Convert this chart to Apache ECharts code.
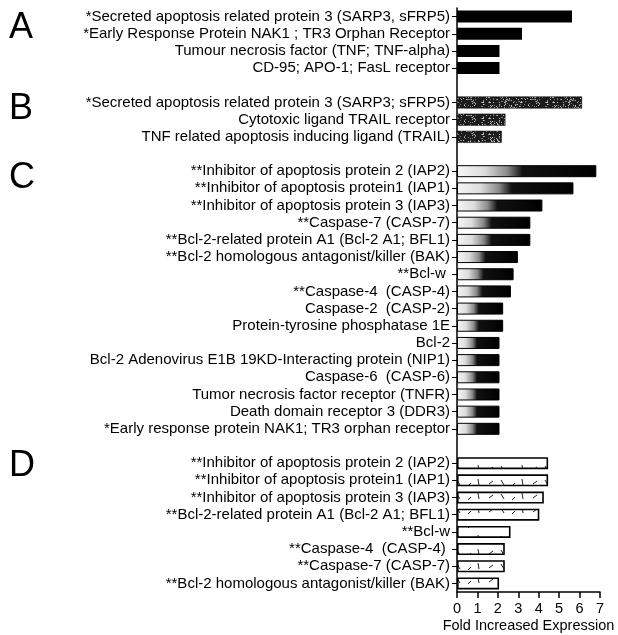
<!DOCTYPE html>
<html><head><meta charset="utf-8">
<script src="https://cdn.jsdelivr.net/npm/echarts@6/dist/echarts.min.js"></script>
<style>html,body{margin:0;padding:0;background:#fff}#c{width:618px;height:635px}</style>
</head><body><div id="c"></div>
<script>
// ---- data ----
const panelALabels = [
  '*Secreted apoptosis related protein 3 (SARP3, sFRP5)',
  '*Early Response Protein NAK1 ; TR3 Orphan Receptor',
  'Tumour necrosis factor (TNF; TNF-alpha)',
  'CD-95; APO-1; FasL receptor'
];
const panelAValues = [5.63, 3.18, 2.08, 2.08];

const panelBLabels = [
  '*Secreted apoptosis related protein 3 (SARP3; sFRP5)',
  'Cytotoxic ligand TRAIL receptor',
  'TNF related apoptosis inducing ligand (TRAIL)'
];
const panelBValues = [6.12, 2.37, 2.19];

const panelCLabels = [
  '**Inhibitor of apoptosis protein 2 (IAP2)',
  '**Inhibitor of apoptosis protein1 (IAP1)',
  '**Inhibitor of apoptosis protein 3 (IAP3)',
  '**Caspase-7 (CASP-7)',
  '**Bcl-2-related protein A1 (Bcl-2 A1; BFL1)',
  '**Bcl-2 homologous antagonist/killer (BAK)',
  '**Bcl-w ',
  '**Caspase-4  (CASP-4)',
  'Caspase-2  (CASP-2)',
  'Protein-tyrosine phosphatase 1E',
  'Bcl-2',
  'Bcl-2 Adenovirus E1B 19KD-Interacting protein (NIP1)',
  'Caspase-6  (CASP-6)',
  'Tumor necrosis factor receptor (TNFR)',
  'Death domain receptor 3 (DDR3)',
  '*Early response protein NAK1; TR3 orphan receptor'
];
const panelCValues = [6.82, 5.70, 4.18, 3.59, 3.59, 2.98, 2.77, 2.64, 2.26, 2.26, 2.08, 2.08, 2.08, 2.08, 2.08, 2.08];

const panelDLabels = [
  '**Inhibitor of apoptosis protein 2 (IAP2)',
  '**Inhibitor of apoptosis protein1 (IAP1)',
  '**Inhibitor of apoptosis protein 3 (IAP3)',
  '**Bcl-2-related protein A1 (Bcl-2 A1; BFL1)',
  '**Bcl-w',
  '**Caspase-4  (CASP-4) ',
  '**Caspase-7 (CASP-7)',
  '**Bcl-2 homologous antagonist/killer (BAK)'
];
const panelDValues = [4.46, 4.46, 4.25, 4.03, 2.62, 2.34, 2.34, 2.06];

const panelLetters = ['A', 'B', 'C', 'D'];
const xTickValues = [0, 1, 2, 3, 4, 5, 6, 7];
const xAxisTitle = 'Fold Increased Expression';

// ---- build combined category axis with blank spacer rows ----
const panels = [
  {labels: panelALabels, values: panelAValues},
  {labels: panelBLabels, values: panelBValues},
  {labels: panelCLabels, values: panelCValues},
  {labels: panelDLabels, values: panelDValues}
];
const categories = [];
const seriesData = panels.map(() => []);
panels.forEach((p, pi) => {
  if (pi > 0) {
    categories.push(' '.repeat(pi));
    seriesData.forEach(d => d.push(null));
  }
  p.labels.forEach((lab, i) => {
    categories.push(lab);
    seriesData.forEach((d, di) => d.push(di === pi ? p.values[i] : null));
  });
});

// ---- textures ----
let seed = 7;
function rnd() { seed = (seed * 16807) % 2147483647; return seed / 2147483647; }
function noiseCanvas() {
  const c = document.createElement('canvas');
  c.width = 64; c.height = 16;
  const g = c.getContext('2d');
  g.fillStyle = '#1c1c1c'; g.fillRect(0, 0, 64, 16);
  for (let y = 0; y < 16; y++) for (let x = 0; x < 64; x++) {
    const r = rnd();
    if (r < 0.18) { g.fillStyle = r < 0.08 ? '#bdbdbd' : '#7a7a7a'; g.fillRect(x, y, 1, 1); }
  }
  return c;
}
function dashCanvas() {
  const c = document.createElement('canvas');
  c.width = 44; c.height = 14;
  const g = c.getContext('2d');
  g.fillStyle = '#fff'; g.fillRect(0, 0, 44, 14);
  g.strokeStyle = '#222'; g.lineWidth = 1;
  [[5, 8, 9, 5], [17, 4, 20, 9], [28, 10, 31, 7], [38, 3, 39, 9]].forEach(s => {
    g.beginPath(); g.moveTo(s[0], s[1]); g.lineTo(s[2], s[3]); g.stroke();
  });
  return c;
}

const FONT = '"Liberation Sans", Arial, Helvetica, sans-serif';
const styles = [
  {color: '#000', borderColor: '#000', borderWidth: 0},
  {color: {image: noiseCanvas(), repeat: 'repeat'}, borderColor: '#000', borderWidth: 0.5},
  {color: new echarts.graphic.LinearGradient(0, 0, 1, 0, [
    {offset: 0, color: '#f6f6f6'}, {offset: 0.2, color: '#dcdcdc'},
    {offset: 0.36, color: '#8a8a8a'}, {offset: 0.47, color: '#111'}, {offset: 1, color: '#000'}]),
   borderColor: '#000', borderWidth: 1},
  {color: {image: dashCanvas(), repeat: 'repeat'}, borderColor: '#000', borderWidth: 1.6}
];

const chart = echarts.init(document.getElementById('c'), null, {renderer: 'canvas'});
chart.setOption({
  animation: false,
  backgroundColor: '#fff',
  grid: {left: 457, right: 18, top: 8, bottom: 43, containLabel: false, outerBoundsMode: 'none'},
  xAxis: {
    type: 'value', min: 0, max: 7, interval: 1,
    name: xAxisTitle, nameLocation: 'middle', nameGap: 26, nameMoveOverlap: false,
    nameTextStyle: {fontFamily: FONT, fontSize: 14.5, color: '#000', verticalAlign: 'top'},
    axisLine: {show: true, lineStyle: {color: '#000', width: 1.5}},
    axisTick: {show: true, length: 6, lineStyle: {color: '#000', width: 1.5}},
    axisLabel: {fontFamily: FONT, fontSize: 14.5, color: '#000', margin: 9,
      formatter: v => xTickValues.includes(v) ? String(v) : ''},
    splitLine: {show: false}
  },
  yAxis: {
    type: 'category', inverse: true, data: categories,
    axisLine: {show: true, lineStyle: {color: '#000', width: 1.5}},
    axisTick: {show: true, alignWithLabel: true, length: 5,
      interval: (i, v) => v.trim() !== '', lineStyle: {color: '#000', width: 1}},
    axisLabel: {interval: 0, fontFamily: FONT, fontSize: 15, color: '#000', margin: 7},
    splitLine: {show: false}
  },
  series: seriesData.map((d, i) => ({
    type: 'bar', name: panelLetters[i], data: d, barWidth: 12, barGap: '-100%',
    itemStyle: styles[i], silent: true
  })),
  graphic: [
    {type: 'text', x: 9, y: 28, style: {text: 'A', font: '36px ' + FONT, fill: '#000', verticalAlign: 'middle'}},
    {type: 'text', x: 9, y: 109, style: {text: 'B', font: '36px ' + FONT, fill: '#000', verticalAlign: 'middle'}},
    {type: 'text', x: 9, y: 178, style: {text: 'C', font: '36px ' + FONT, fill: '#000', verticalAlign: 'middle'}},
    {type: 'text', x: 9, y: 466, style: {text: 'D', font: '36px ' + FONT, fill: '#000', verticalAlign: 'middle'}}
  ]
});
</script></body></html>
